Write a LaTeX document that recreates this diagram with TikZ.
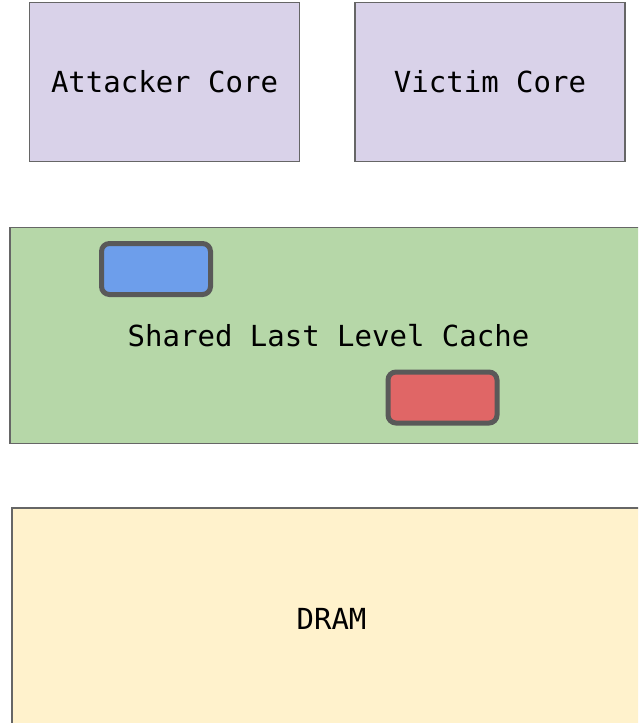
\documentclass[tikz,border=0pt]{standalone}
\usepackage{fontspec}
\setmonofont{DejaVu Sans Mono}
\usepackage{tikz}
\usetikzlibrary{positioning}

\definecolor{corefill}{HTML}{D9D2E9}
\definecolor{cachefill}{HTML}{B6D7A8}
\definecolor{dramfill}{HTML}{FFF2CC}
\definecolor{attackfill}{HTML}{6D9EEB}
\definecolor{victimfill}{HTML}{E06666}
\definecolor{boxedge}{HTML}{666666}
\definecolor{lineedge}{HTML}{595959}

\tikzset{
  unit/.style={draw=boxedge, line width=1.5pt, inner sep=0pt,
    font=\ttfamily\fontsize{29}{34}\selectfont},
  cacheline/.style={draw=lineedge, line width=5pt, rounded corners=8pt,
    minimum width=109pt, minimum height=51pt}
}

\begin{document}
\begin{tikzpicture}[x=1pt,y=-1pt]
        \useasboundingbox (0,0) rectangle (638,723);
        \clip (0,0) rectangle (638,723);
        % cores
        \node[unit, fill=corefill, minimum width=270pt, minimum height=159pt] (attacker) at (164.5,82) {Attacker Core};
        \node[unit, fill=corefill, minimum width=270pt, minimum height=159pt, right=54pt of attacker] (victim) {Victim Core};
        % shared cache with two lines
        \node[unit, fill=cachefill, minimum width=637pt, minimum height=216pt] (llc) at (328.5,335.5) {Shared Last Level Cache};
        \node[cacheline, fill=attackfill] (attackline) at (156,269) {};
        \node[cacheline, fill=victimfill] (victimline) at (442.5,397.5) {};
        % memory
        \node[unit, fill=dramfill, minimum width=639pt, minimum height=222pt] (dram) at (331.5,619) {DRAM};
      \end{tikzpicture}
\end{document}
